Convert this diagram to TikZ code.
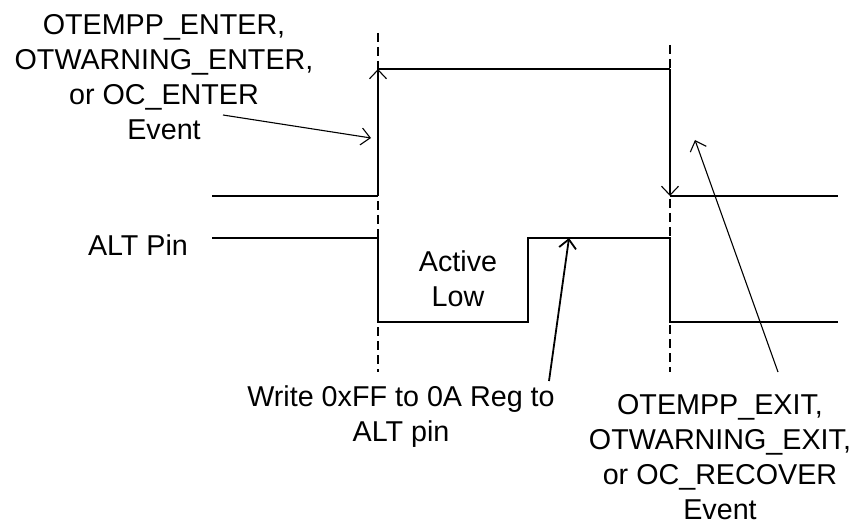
\documentclass[tikz,border=0pt]{standalone}
\usepackage{fontspec}
\setmainfont{Liberation Sans}
\usetikzlibrary{arrows.meta}

\begin{document}
\begin{tikzpicture}[x=1pt,y=-1pt,font=\fontsize{28.7}{35}\selectfont,>={Straight Barb[length=9pt,width=17pt]},lbl/.style={align=center,inner sep=0pt,anchor=north},sig/.style={line width=1.1pt},altsig/.style={line width=1.9pt},guide/.style={line width=1.2pt,dash pattern=on 9pt off 5pt},note/.style={->,line width=1.1pt}]
 \useasboundingbox (0,0) rectangle (852,524);
 % event edges
 \draw[guide] (378,33) coordinate (g1) -- (378,372) coordinate (h1);
 \draw[guide] (670,45) coordinate (g2) -- (670,372) coordinate (h2);
 % fault signal
 \coordinate (a0) at (212,196); \coordinate (a1) at (378,196);
 \coordinate (a2) at (378,69); \coordinate (a3) at (670,69);
 \coordinate (a4) at (670,196); \coordinate (a5) at (838,196);
 \draw[sig] (a0)--(a1);
 \draw[sig,->] (a1)--(a2);
 \draw[sig] (a2)--(a3);
 \draw[sig,->] (a3)--(a4);
 \draw[sig] (a4)--(a5);
 % ALT pin
 \coordinate (b0) at (212,238); \coordinate (b1) at (378,238);
 \coordinate (b2) at (378,322); \coordinate (b3) at (528,322);
 \coordinate (b4) at (528,238); \coordinate (b5) at (670,238);
 \coordinate (b6) at (670,322); \coordinate (b7) at (838,322);
 \draw[altsig] (b0)--(b1)--(b2)--(b3)--(b4)--(b5)--(b6)--(b7);
 % labels
 \node[lbl] (enter) at (164,14) {OTEMPP\_ENTER,\\OTWARNING\_ENTER,\\or OC\_ENTER\\Event};
 \node[lbl] (pin) at (138,235) {ALT Pin};
 \node[lbl] (low) at (458,251) {Active\\Low};
 \node[lbl] (write) at (401,386) {Write 0xFF to 0A Reg to\\ALT pin};
 \node[lbl] (exit) at (720,394) {OTEMPP\_EXIT,\\OTWARNING\_EXIT,\\or OC\_RECOVER\\Event};
 % pointers
 \coordinate (e0) at (223,115); \coordinate (e1) at (371,138);
 \coordinate (w0) at (549,381); \coordinate (w1) at (569,238);
 \coordinate (x0) at (778,372); \coordinate (x1) at (695,140);
 \draw[note] (e0)--(e1);
 \draw[note,line width=1.8pt] (w0)--(w1);
 \draw[note] (x0)--(x1);
\end{tikzpicture}
\end{document}
